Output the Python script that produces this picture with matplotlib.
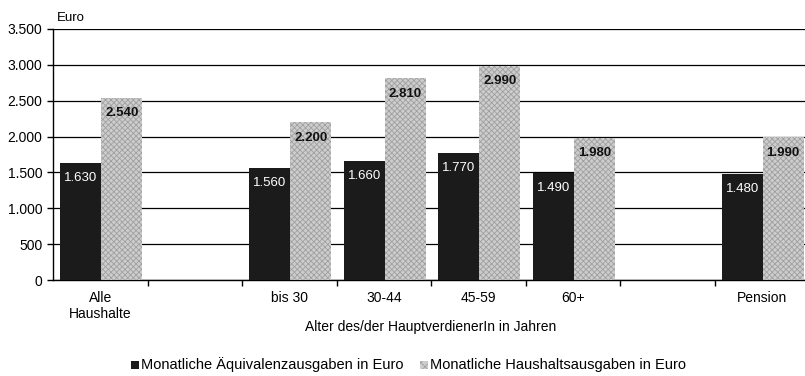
import matplotlib
matplotlib.use("Agg")
import matplotlib.pyplot as plt
from matplotlib.patches import Rectangle
import numpy as np

plt.rcParams['font.family'] = ['Liberation Sans', 'DejaVu Sans']
plt.rcParams['hatch.linewidth'] = 0.6

categories = ["Alle\nHaushalte", "", "bis 30", "30-44", "45-59", "60+", "", "Pension"]
aequivalenz = [1630, None, 1560, 1660, 1770, 1490, None, 1480]
haushalt = [2540, None, 2200, 2810, 2990, 1980, None, 1990]
yticks = [0, 500, 1000, 1500, 2000, 2500, 3000, 3500]
ytick_labels = ["0", "500", "1.000", "1.500", "2.000", "2.500", "3.000", "3.500"]
series_names = ["Monatliche Äquivalenzausgaben in Euro", "Monatliche Haushaltsausgaben in Euro"]
xlabel = "Alter des/der HauptverdienerIn in Jahren"


def fmt(v):
    return f"{v:,}".replace(",", ".")


fig = plt.figure(figsize=(8.05, 3.76), dpi=100)
ax = fig.add_axes([53 / 805, 96 / 376, 756 / 805, 251 / 376])

w = 0.435
dark = "#1b1b1b"
light = "#cdcdcd"
for i, (a, h) in enumerate(zip(aequivalenz, haushalt)):
    if a is None:
        continue
    ax.bar(i - w / 2 + 0.01, a, width=w, color=dark, zorder=3)
    ax.bar(i + w / 2 + 0.01, h, width=w, facecolor=light, edgecolor="#a0a0a0",
           hatch="xxxxxx", linewidth=0, zorder=3)
    ax.annotate(fmt(a), (i - w / 2 + 0.01, a), xytext=(0, -11), textcoords="offset points",
                ha="center", va="center", color="white", fontsize=9.5, zorder=5)
    ax.annotate(fmt(h), (i + w / 2 + 0.01, h), xytext=(0, -11), textcoords="offset points",
                ha="center", va="center", color="#111111", fontsize=9.5,
                fontweight="bold", zorder=5)

ax.set_xlim(-0.5, 7.5)
ax.set_ylim(0, 3500)
ax.set_yticks(yticks)
ax.set_yticklabels(ytick_labels, fontsize=10)
ax.yaxis.grid(True, color="black", linewidth=0.9, zorder=0)
ax.set_axisbelow(True)

ax.set_xticks(np.arange(0.5, 7.5, 1))
ax.set_xticklabels([])
ax.set_xticks(np.arange(8), minor=True)
ax.set_xticklabels(categories, minor=True, fontsize=10)
ax.tick_params(axis="x", which="minor", length=0, pad=8)
ax.tick_params(axis="x", which="major", length=4, width=1, direction="out")
ax.tick_params(axis="y", length=4, width=1, direction="out")

for s in ["top", "right"]:
    ax.spines[s].set_visible(False)
for s in ["left", "bottom"]:
    ax.spines[s].set_linewidth(1)

ax.text(3.5, -0.158, xlabel, transform=ax.get_xaxis_transform(),
        ha="center", va="top", fontsize=10)
ax.text(0.005, 1.02, "Euro", transform=ax.transAxes, ha="left", va="bottom", fontsize=9.5)

# legend
fig.patches.append(Rectangle((131 / 805, (376 - 369) / 376), 8 / 805, 8 / 376,
                             transform=fig.transFigure, facecolor=dark, edgecolor="none"))
fig.text(141 / 805, (376 - 365) / 376, series_names[0], fontsize=10.5, va="center", ha="left")
fig.patches.append(Rectangle((420 / 805, (376 - 369) / 376), 8 / 805, 8 / 376,
                             transform=fig.transFigure, facecolor=light, edgecolor="#a0a0a0",
                             hatch="xxxx", linewidth=0))
fig.text(430 / 805, (376 - 365) / 376, series_names[1], fontsize=10.5, va="center", ha="left")

fig.savefig("out.png", dpi=100)
